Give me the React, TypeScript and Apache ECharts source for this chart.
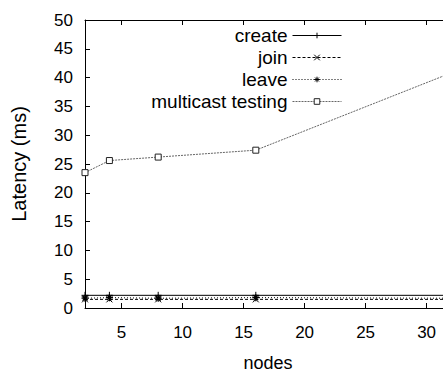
import React, { useEffect, useRef } from "react";
import * as echarts from "echarts";

const nodes = [2, 4, 8, 16, 32];
const createLatency = [2.2, 2.2, 2.2, 2.2, 2.2];
const joinLatency = [1.5, 1.5, 1.5, 1.5, 1.5];
const leaveLatency = [1.7, 1.8, 1.7, 1.8, 1.7];
const multicastLatency = [23.5, 25.6, 26.2, 27.4, 40.8];
const xTicks = [5, 10, 15, 20, 25, 30];
const seriesNames = ["create", "join", "leave", "multicast testing"];

const PLUS = "path://M5,0L5,10M0,5L10,5";
const CROSS = "path://M0,0L10,10M10,0L0,10";
const STAR = "path://M5,0L5,10M0,5L10,5M1.5,1.5L8.5,8.5M8.5,1.5L1.5,8.5";

const FONT = "Liberation Sans";
const FS = 17;
const W = 460;

export default function App() {
  const ref = useRef<HTMLDivElement>(null);
  useEffect(() => {
    if (!ref.current) return;
    document.body.style.overflow = "hidden";
    const chart = echarts.init(ref.current, null, { renderer: "svg" });
    const pair = (ys: number[]) => nodes.map((x, i) => [x, ys[i]]);
    chart.setOption({
      animation: false,
      backgroundColor: "#fff",
      textStyle: { fontFamily: FONT },
      grid: { left: 85, top: 20, right: W - 451, bottom: 63 },
      legend: {
        orient: "vertical",
        align: "right",
        right: W - 347,
        top: 21,
        itemWidth: 49,
        itemHeight: 7,
        itemGap: 3,
        lineStyle: { width: 1 },
        itemStyle: { borderWidth: 1 },
        textStyle: { fontSize: 19, color: "#000", fontFamily: FONT, lineHeight: 19 },
        data: seriesNames,
      },
      xAxis: [
        {
          type: "value",
          min: 2,
          max: 32,
          name: "nodes",
          nameLocation: "middle",
          nameGap: 46,
          nameTextStyle: { fontSize: 18, color: "#000", fontFamily: FONT },
          axisLine: { show: true, lineStyle: { color: "#000", width: 1 } },
          axisTick: { show: true, inside: true, length: 5, customValues: xTicks, lineStyle: { color: "#000" } },
          axisLabel: { customValues: xTicks, fontSize: FS, color: "#000", margin: 16, fontFamily: FONT },
          splitLine: { show: false },
        },
        {
          type: "value",
          position: "top",
          min: 2,
          max: 32,
          axisLine: { show: true, lineStyle: { color: "#000", width: 1 } },
          axisTick: { show: true, inside: true, length: 5, customValues: xTicks, lineStyle: { color: "#000" } },
          axisLabel: { show: false },
          splitLine: { show: false },
        },
      ],
      yAxis: {
        type: "value",
        min: 0,
        max: 50,
        interval: 5,
        name: "Latency (ms)",
        nameLocation: "middle",
        nameGap: 56,
        nameTextStyle: { fontSize: 20, color: "#000", fontFamily: FONT },
        axisLine: { show: true, lineStyle: { color: "#000", width: 1 } },
        axisTick: { show: true, inside: true, length: 5, lineStyle: { color: "#000" } },
        axisLabel: { fontSize: FS, color: "#000", margin: 12, fontFamily: FONT },
        splitLine: { show: false },
      },
      series: [
        {
          name: "create",
          type: "line",
          data: pair(createLatency),
          symbol: PLUS,
          symbolSize: 7,
          lineStyle: { color: "#000", width: 1, type: "solid" },
          itemStyle: { color: "#000", borderColor: "#000", borderWidth: 1 },
        },
        {
          name: "join",
          type: "line",
          data: pair(joinLatency),
          symbol: CROSS,
          symbolSize: 6,
          lineStyle: { color: "#000", width: 1, type: [3, 2] },
          itemStyle: { color: "#000", borderColor: "#000", borderWidth: 1 },
        },
        {
          name: "leave",
          type: "line",
          data: pair(leaveLatency),
          symbol: STAR,
          symbolSize: 7,
          lineStyle: { color: "#000", width: 1, type: [1, 2] },
          itemStyle: { color: "#000", borderColor: "#000", borderWidth: 1.2 },
        },
        {
          name: "multicast testing",
          type: "line",
          data: pair(multicastLatency),
          symbol: "rect",
          symbolSize: 6,
          lineStyle: { color: "#666", width: 1, type: [2, 1] },
          itemStyle: { color: "#fff", borderColor: "#222", borderWidth: 1 },
        },
      ],
    });
    return () => chart.dispose();
  }, []);
  return (
    <div
      ref={ref}
      style={{ position: "fixed", left: 0, top: 0, width: W, height: 377 }}
    />
  );
}
